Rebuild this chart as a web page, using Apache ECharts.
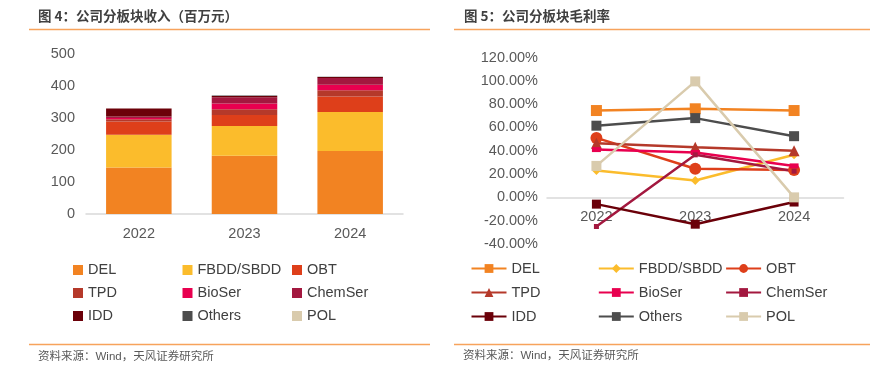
<!DOCTYPE html>
<html><head><meta charset="utf-8">
<script src="https://cdn.jsdelivr.net/npm/echarts@6/dist/echarts.min.js"></script>
<style>html,body{margin:0;padding:0;background:#fff}#c{width:888px;height:378px}</style>
</head><body><div id="c"></div>
<script>
const years = ['2022','2023','2024'];
const names = ['DEL','FBDD/SBDD','OBT','TPD','BioSer','ChemSer','IDD','Others','POL'];
const colors = ['#F28322','#FBBC2C','#DE3F1A','#B5392A','#E8004F','#A3183F','#6B0009','#4D4D4D','#D9CBAD'];
// revenue (million yuan)
const revDEL = [145, 182, 197];
const revFBDD = [103, 93, 122];
const revOBT = [41, 34, 48];
const revTPD = [7, 18, 20];
const revBioSer = [4, 18, 17];
const revChemSer = [5, 20, 21];
const revIDD = [25, 4, 3];
const revOthers = [0, 1, 1];
const revPOL = [0, 0, 0];
const revTicks = [0, 100, 200, 300, 400, 500];
// gross margin (%)
const gmDEL = [74.5, 76, 74.5];
const gmFBDD = [23, 14.5, 36.5];
const gmOBT = [51, 24.5, 23.5];
const gmTPD = [46.5, 43, 40];
const gmBioSer = [41, 38.5, 27];
const gmChemSer = [-25, 36.5, 22.5];
const gmIDD = [-5.8, -23, -4];
const gmOthers = [61.5, 68, 52.5];
const gmPOL = [27, 99.5, 0];
const gmTicks = [-40, -20, 0, 20, 40, 60, 80, 100, 120];

const revData = [revDEL, revFBDD, revOBT, revTPD, revBioSer, revChemSer, revIDD, revOthers, revPOL];
const gmData = [gmDEL, gmFBDD, gmOBT, gmTPD, gmBioSer, gmChemSer, gmIDD, gmOthers, gmPOL];
const symbols = ['rect','diamond','circle','triangle','rect','rect','rect','rect','rect'];
const symSizes = [11, 9, 12, 11, [9,5], 5, 9, 10, 10];

const latin = '"Liberation Sans", Arial, sans-serif';
const cjk = '"Noto Sans CJK SC", sans-serif';
const mixed = '"Liberation Sans", "Noto Sans CJK SC", sans-serif';

const chart = echarts.init(document.getElementById('c'));
const series = [];
names.forEach((n, i) => {
  series.push({
    name: n, type: 'bar', stack: 'rev', xAxisIndex: 0, yAxisIndex: 0,
    barWidth: '62%', data: revData[i], itemStyle: {color: colors[i]}, legendHoverLink: false
  });
});
names.forEach((n, i) => {
  series.push({
    name: n + ' ', type: 'line', xAxisIndex: 1, yAxisIndex: 1, data: gmData[i],
    symbol: symbols[i], symbolSize: symSizes[i], showAllSymbol: true,
    lineStyle: {color: colors[i], width: 2.5}, itemStyle: {color: colors[i]}
  });
});

const legends = [];
names.forEach((n, i) => {
  const col = i % 3, row = Math.floor(i / 3);
  legends.push({
    data: [{name: n, icon: 'rect'}], left: 73 + col * 109.5, top: 262.5 + row * 23,
    itemWidth: 10, itemHeight: 10, itemGap: 5, padding: 0,
    textStyle: {fontFamily: latin, fontSize: 14.5, color: '#404040'},
    selectedMode: false
  });
  legends.push({
    data: [n + ' '], left: 470.5 + col * 127.3, top: 261 + row * 24,
    itemWidth: 35, itemHeight: 11, itemGap: 5, padding: 0,
    textStyle: {fontFamily: latin, fontSize: 14.5, color: '#404040'},
    selectedMode: false
  });
});

const gTop = 57.5, gH = 186.5;
const zeroOffset = -(gH * (0 - gmTicks[0]) / (gmTicks[gmTicks.length-1] - gmTicks[0]));

const option = {
  animation: false,
  textStyle: {fontFamily: latin},
  legend: legends,
  grid: [
    {left: 86, top: 54, width: 317, height: 160, containLabel: false},
    {left: 547, top: gTop, width: 296.5, height: gH, containLabel: false}
  ],
  xAxis: [
    {type: 'category', gridIndex: 0, data: years,
     axisLine: {lineStyle: {color: '#D9D9D9', width: 1.5}}, axisTick: {show: false},
     axisLabel: {color: '#595959', fontSize: 14.5, margin: 12}},
    {type: 'category', gridIndex: 1, data: years, offset: zeroOffset,
     axisLine: {onZero: false, lineStyle: {color: '#D9D9D9', width: 1.5}}, axisTick: {show: false},
     axisLabel: {color: '#595959', fontSize: 14.5, margin: 12}, z: 1}
  ],
  yAxis: [
    {type: 'value', gridIndex: 0, min: revTicks[0], max: revTicks[revTicks.length-1], interval: 100,
     axisLine: {show: false}, axisTick: {show: false}, splitLine: {show: false},
     axisLabel: {color: '#595959', fontSize: 14.5, margin: 11}},
    {type: 'value', gridIndex: 1, min: gmTicks[0], max: gmTicks[gmTicks.length-1], interval: 20,
     axisLine: {show: false}, axisTick: {show: false}, splitLine: {show: false},
     axisLabel: {color: '#595959', fontSize: 14.5, margin: 9, formatter: v => v.toFixed(2) + '%'}}
  ],
  series: series,
  graphic: [
    {type: 'text', left: 38, top: 9, style: {text: '图 4：公司分板块收入（百万元）', font: 'bold 13.5px ' + cjk, fill: '#404040'}},
    {type: 'text', left: 464, top: 9, style: {text: '图 5：公司分板块毛利率', font: 'bold 13.5px ' + cjk, fill: '#404040'}},
    {type: 'line', shape: {x1: 29, y1: 29.5, x2: 430, y2: 29.5}, style: {stroke: '#F7A35C', lineWidth: 1.5}},
    {type: 'line', shape: {x1: 454, y1: 29.5, x2: 870, y2: 29.5}, style: {stroke: '#F7A35C', lineWidth: 1.5}},
    {type: 'line', shape: {x1: 29, y1: 344.5, x2: 430, y2: 344.5}, style: {stroke: '#F7A35C', lineWidth: 1.5}},
    {type: 'line', shape: {x1: 454, y1: 344.5, x2: 870, y2: 344.5}, style: {stroke: '#F7A35C', lineWidth: 1.5}},
    {type: 'text', left: 38, top: 351.5, style: {text: '资料来源：Wind，天风证券研究所', font: '11.5px ' + mixed, fill: '#595959'}},
    {type: 'text', left: 463, top: 350.5, style: {text: '资料来源：Wind，天风证券研究所', font: '11.5px ' + mixed, fill: '#595959'}}
  ]
};
chart.setOption(option);
</script></body></html>
